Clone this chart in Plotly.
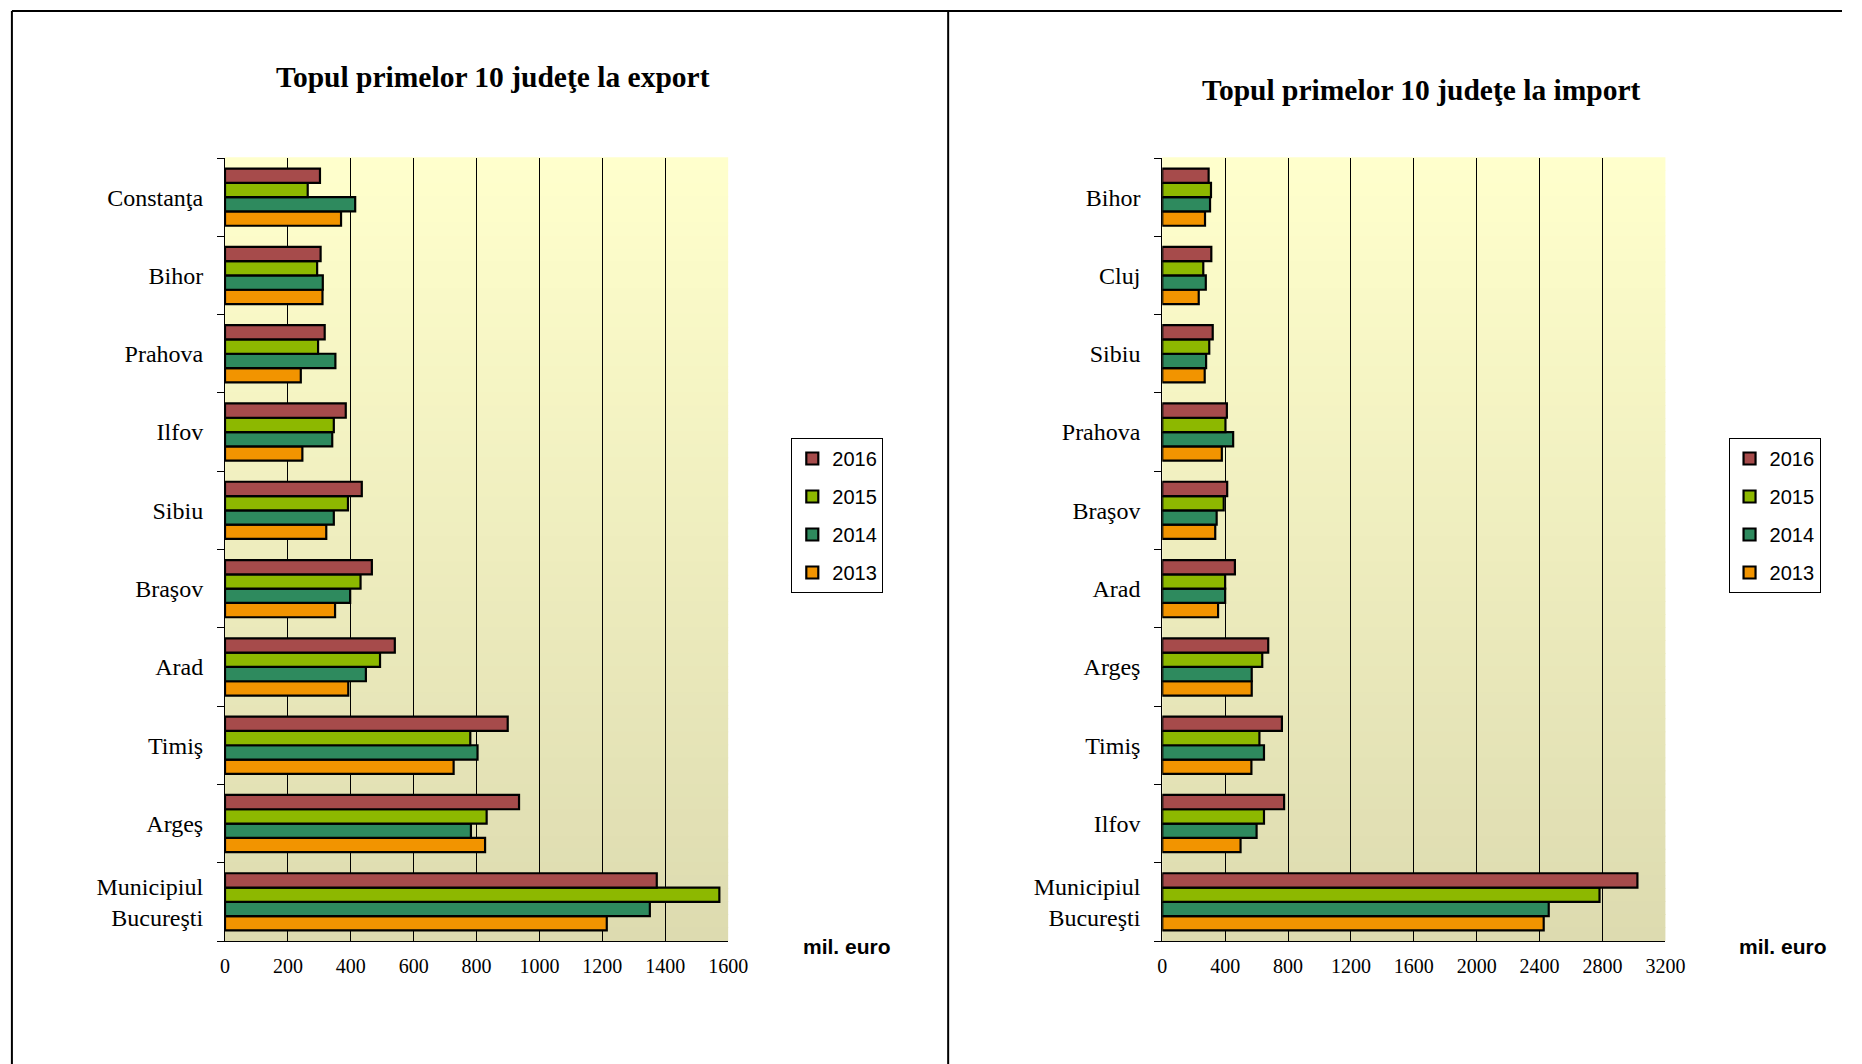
import plotly.graph_objects as go

# ---------------- data ----------------
years = ["2013", "2014", "2015", "2016"]

export_counties = ["Constanţa", "Bihor", "Prahova", "Ilfov", "Sibiu", "Braşov",
                   "Arad", "Timiş", "Argeş", "Municipiul<br>Bucureşti"]
export_2016 = [302, 304, 317, 384, 435, 467, 540, 899, 935, 1373]
export_2015 = [263, 293, 296, 346, 391, 431, 493, 780, 832, 1572]
export_2014 = [414, 311, 351, 341, 346, 398, 448, 803, 782, 1351]
export_2013 = [369, 310, 241, 246, 322, 350, 392, 727, 827, 1214]

import_counties = ["Bihor", "Cluj", "Sibiu", "Prahova", "Braşov", "Arad",
                   "Argeş", "Timiş", "Ilfov", "Municipiul<br>Bucureşti"]
import_2016 = [295, 312, 321, 411, 413, 462, 674, 761, 775, 3022]
import_2015 = [310, 261, 299, 402, 391, 400, 636, 618, 647, 2781]
import_2014 = [304, 277, 279, 451, 346, 400, 569, 647, 600, 2458]
import_2013 = [272, 232, 270, 379, 337, 355, 569, 567, 498, 2426]

export_ticks = [0, 200, 400, 600, 800, 1000, 1200, 1400, 1600]
import_ticks = [0, 400, 800, 1200, 1600, 2000, 2400, 2800, 3200]

titles = ["Topul primelor 10 judeţe la export", "Topul primelor 10 judeţe la import"]
unit_label = "mil. euro"

# ---------------- style ----------------
colors = {"2013": "#F29400", "2014": "#2E8A5E", "2015": "#8DB800", "2016": "#A64B4B"}
ranks = {"2016": 1, "2015": 2, "2014": 3, "2013": 4}
W, H = 1862, 1064
serif = "Liberation Serif, Times New Roman, serif"
sans = "Liberation Sans, Arial, sans-serif"

fig = go.Figure()

export_vals = {"2013": export_2013, "2014": export_2014, "2015": export_2015, "2016": export_2016}
import_vals = {"2013": import_2013, "2014": import_2014, "2015": import_2015, "2016": import_2016}

for yr in years:
    fig.add_trace(go.Bar(
        y=export_counties, x=export_vals[yr], orientation="h", name=yr,
        marker=dict(color=colors[yr], line=dict(color="black", width=2.2)),
        xaxis="x", yaxis="y", legend="legend", legendrank=ranks[yr],
        legendgroup="e" + yr,
    ))
for yr in years:
    fig.add_trace(go.Bar(
        y=import_counties, x=import_vals[yr], orientation="h", name=yr,
        marker=dict(color=colors[yr], line=dict(color="black", width=2.2)),
        xaxis="x2", yaxis="y2", legend="legend2", legendrank=ranks[yr],
        legendgroup="i" + yr,
    ))

ydom = [1 - 941 / H, 1 - 158 / H]
xdom1 = [223 / W, 733 / W]
xdom2 = [1173 / W, 1683 / W]

xcommon = dict(showgrid=True, gridcolor="black", gridwidth=1, showline=True,
               linecolor="black", linewidth=1, ticks="", zeroline=False,
               tickfont=dict(family=serif, size=20, color="black"),
               ticklabelstandoff=7)
ycommon = dict(showgrid=False, showline=True, linecolor="black", linewidth=1,
               ticks="outside", ticklen=7, tickcolor="black", tickson="boundaries",
               tickfont=dict(family=serif, size=24, color="black"),
               ticklabelstandoff=16, categoryorder="array")

legcommon = dict(yanchor="top", xanchor="left", y=1 - 438 / H,
                 traceorder="grouped", tracegroupgap=9,
                 bordercolor="black", borderwidth=1, bgcolor="white",
                 font=dict(family=sans, size=20, color="black"), itemwidth=30)

fig.update_layout(
    width=W, height=H, margin=dict(l=0, r=0, t=0, b=0),
    paper_bgcolor="white", plot_bgcolor="rgba(0,0,0,0)",
    barmode="group", bargap=0.27, bargroupgap=0,
    xaxis=dict(domain=xdom1, range=[0, 1600], tickvals=export_ticks, anchor="y", **xcommon),
    yaxis=dict(domain=ydom, anchor="x", categoryarray=export_counties[::-1], **ycommon),
    xaxis2=dict(domain=xdom2, range=[0, 3200], tickvals=import_ticks, anchor="y2", **xcommon),
    yaxis2=dict(domain=ydom, anchor="x2", categoryarray=import_counties[::-1], **ycommon),
    legend=dict(x=797 / W, **legcommon),
    legend2=dict(x=1747 / W, **legcommon),
    showlegend=True,
)

# gradient plot backgrounds
top_c = (255, 255, 204)
bot_c = (221, 219, 176)
n = 60
shapes = []
for xr, yr_ in (("x domain", "y domain"), ("x2 domain", "y2 domain")):
    for i in range(n):
        t = i / (n - 1)
        c = tuple(round(top_c[k] + (bot_c[k] - top_c[k]) * t) for k in range(3))
        shapes.append(dict(type="rect", xref=xr, yref=yr_, x0=0, x1=1,
                           y0=1 - (i + 1) / n, y1=1 - i / n + 0.001,
                           fillcolor="rgb(%d,%d,%d)" % c, line=dict(width=0),
                           layer="below"))
# frame lines
for (x0, y0, x1, y1) in ((7, 11, W, 11), (7, 11, 7, H), (956, 11, 956, H)):
    shapes.append(dict(type="line", xref="paper", yref="paper",
                       x0=x0 / W, x1=x1 / W, y0=1 - y0 / H, y1=1 - y1 / H,
                       line=dict(color="black", width=2)))
fig.update_layout(shapes=shapes)

annotations = [
    dict(text="<b>" + titles[0] + "</b>", x=495 / W, y=1 - 77 / H, xref="paper", yref="paper",
         showarrow=False, xanchor="center", yanchor="middle",
         font=dict(family=serif, size=29.5, color="black")),
    dict(text="<b>" + titles[1] + "</b>", x=1436 / W, y=1 - 90 / H, xref="paper", yref="paper",
         showarrow=False, xanchor="center", yanchor="middle",
         font=dict(family=serif, size=29.5, color="black")),
    dict(text="<b>" + unit_label + "</b>", x=853 / W, y=1 - 946 / H, xref="paper", yref="paper",
         showarrow=False, xanchor="center", yanchor="middle",
         font=dict(family=sans, size=21, color="black")),
    dict(text="<b>" + unit_label + "</b>", x=1802 / W, y=1 - 946 / H, xref="paper", yref="paper",
         showarrow=False, xanchor="center", yanchor="middle",
         font=dict(family=sans, size=21, color="black")),
]
fig.update_layout(annotations=annotations)

fig.write_html("out.html", config={"displayModeBar": False},
               post_script="document.body.style.margin='0';document.body.style.overflow='hidden';")
